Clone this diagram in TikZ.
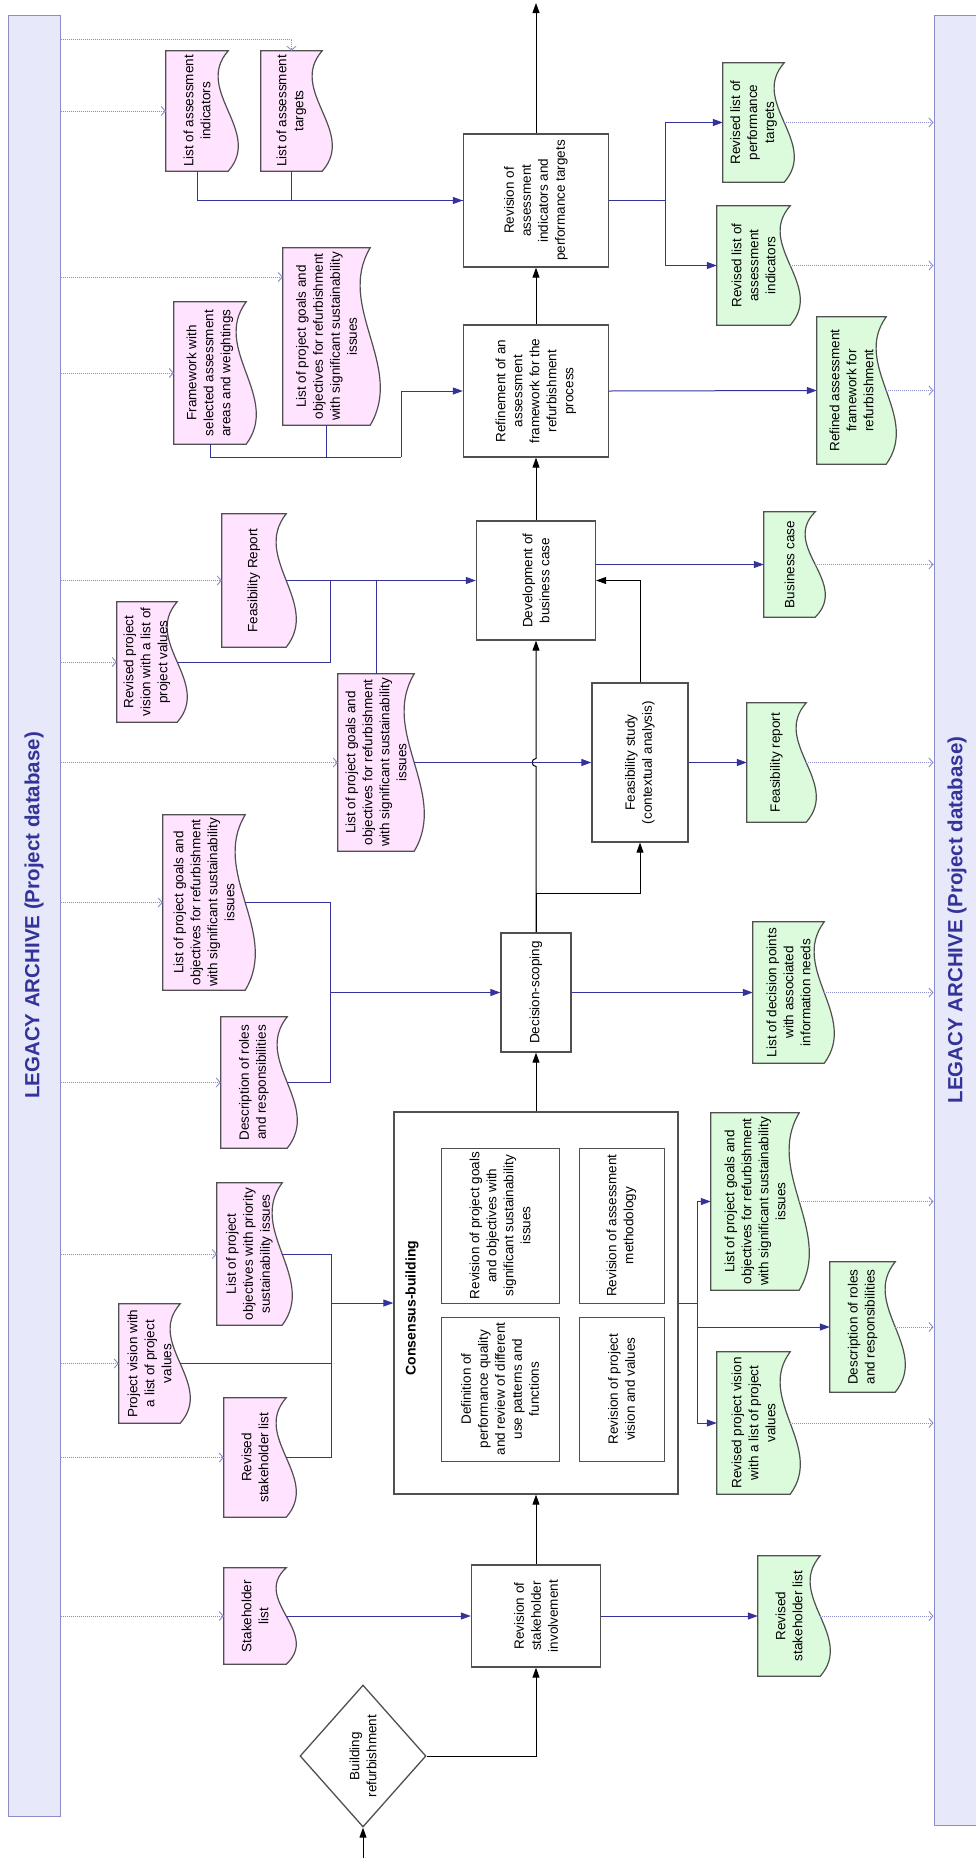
\documentclass[tikz,border=0pt]{standalone}
\usepackage{fontspec}
\setmainfont{Liberation Sans}
\usetikzlibrary{arrows.meta,shapes.geometric,calc,backgrounds}

\definecolor{navy}{HTML}{333399}
\definecolor{archline}{HTML}{8C8CCB}
\definecolor{archfill}{HTML}{E8E8FB}
\definecolor{pinkdoc}{HTML}{FFE3FF}
\definecolor{greendoc}{HTML}{DCFADC}
\definecolor{boxgrey}{HTML}{505050}

\newcommand{\diagfont}{\fontsize{13.5}{17}\selectfont}

\tikzset{
  proc/.style={draw=boxgrey, line width=1.3pt, fill=white, rotate=90, align=center,
    font=\diagfont, inner sep=2pt},
  subproc/.style={proc, line width=1pt},
  docnode/.style={rotate=90, align=center, font=\diagfont, inner sep=0pt},
  archbar/.style={draw=archline, fill=archfill, line width=1pt, rotate=90,
    font=\fontsize{20.5}{24}\selectfont\bfseries, text=navy},
  flow/.style={draw=black, line width=1pt, -{Triangle[length=10pt,width=7pt]}},
  feed/.style={draw=navy, line width=1pt, -{Triangle[length=10pt,width=7pt]}},
  feedline/.style={draw=navy, line width=1pt},
  arch/.style={draw=archline, line width=0.9pt, dash pattern=on 1pt off 1pt,
    -{Straight Barb[length=4pt,width=9pt]}},
}

\begin{document}
\begin{tikzpicture}[x=1pt, y=-1pt]
  \useasboundingbox (0,0) rectangle (976,1858);

  % archive bars
  \node[archbar, minimum width=1801pt, minimum height=52pt] (archtop) at (34,915.5) {LEGACY ARCHIVE (Project database)};
  \node[archbar, minimum width=1810pt, minimum height=46pt] (archbot) at (957,920) {LEGACY ARCHIVE (Project database)};

  % main process
  \node[proc, diamond, aspect=1.13, minimum width=142pt, minimum height=126pt, inner sep=0pt] (refurb) at (363,1756) {Building\\refurbishment};
  \node[proc, minimum width=102pt, minimum height=129pt] (revstake) at (536,1616) {Revision of\\stakeholder\\involvement};
  \node[proc, minimum width=382pt, minimum height=284pt] (consensus) at (536,1303) {};
  \node[rotate=90, font=\fontsize{14}{17}\selectfont\bfseries] (conslabel) at (412,1308) {Consensus-building};
  \node[subproc, minimum width=144pt, minimum height=118pt] (defqual) at (500,1389) {Definition of\\performance quality\\and review of different\\use patterns and\\functions};
  \node[subproc, minimum width=144pt, minimum height=85pt] (visionval) at (621.5,1389) {Revision of project\\vision and values};
  \node[subproc, minimum width=155pt, minimum height=118pt] (goalsrev) at (500,1225.5) {Revision of project goals\\and objectives with\\significant sustainability\\issues};
  \node[subproc, minimum width=155pt, minimum height=85pt] (method) at (621.5,1225.5) {Revision of assessment\\methodology};
  \node[proc, minimum width=119pt, minimum height=70pt] (decide) at (536,992.5) {Decision-scoping};
  \node[proc, minimum width=159pt, minimum height=96pt] (feas) at (640,762.5) {Feasibility study\\(contextual analysis)};
  \node[proc, minimum width=119pt, minimum height=119pt] (busdev) at (536,580.5) {Development of\\business case};
  \node[proc, minimum width=132pt, minimum height=145pt] (refine) at (536,391) {Refinement of an\\assessment\\framework for the\\refurbishment\\process};
  \node[proc, minimum width=133pt, minimum height=145pt] (revind) at (536,200.5) {Revision of\\assessment\\indicators and\\performance targets};

  % documents taken from the archive
  \node[docnode, minimum width=96pt, minimum height=62pt] (stakelist) at (255,1616) {Stakeholder\\list};
  \node[docnode, minimum width=119pt, minimum height=62pt] (revstakelist) at (255,1457.5) {Revised\\stakeholder list};
  \node[docnode, minimum width=119pt, minimum height=61pt] (visionlist) at (149.5,1363.5) {Project vision with\\a list of project\\values};
  \node[docnode, minimum width=142pt, minimum height=65pt] (objlist) at (249.5,1254) {List of project\\objectives with priority\\sustainability issues};
  \node[docnode, minimum width=131pt, minimum height=66pt] (rolesin) at (254,1082.5) {Description of roles\\and responsibilities};
  \node[docnode, minimum width=175pt, minimum height=82pt] (goalsA) at (204,902.5) {List of project goals and\\objectives for refurbishment\\with significant sustainability\\issues};
  \node[docnode, minimum width=177pt, minimum height=76pt] (goalsB) at (376,762.5) {List of project goals and\\objectives for refurbishment\\with significant sustainability\\issues};
  \node[docnode, minimum width=133pt, minimum height=64pt] (feasrep) at (254,580.5) {Feasibility Report};
  \node[docnode, minimum width=120pt, minimum height=60pt] (visionrev) at (147,662) {Revised project\\vision with a list of\\project values};
  \node[docnode, minimum width=142pt, minimum height=72pt] (framework) at (210,373) {Framework with\\selected assessment\\areas and weightings};
  \node[docnode, minimum width=177pt, minimum height=87pt] (goalsC) at (326.5,336.5) {List of project goals and\\objectives for refurbishment\\with significant sustainability\\issues};
  \node[docnode, minimum width=120pt, minimum height=62pt] (indlist) at (197,111) {List of assessment\\indicators};
  \node[docnode, minimum width=120pt, minimum height=61pt] (tarlist) at (291.5,111) {List of assessment\\targets};

  % documents stored in the archive
  \node[docnode, minimum width=120pt, minimum height=62pt] (revstakeout) at (789,1616) {Revised\\stakeholder list};
  \node[docnode, minimum width=177pt, minimum height=88pt] (goalsout) at (755,1201.5) {List of project goals and\\objectives for refurbishment\\with significant sustainability\\issues};
  \node[docnode, minimum width=130pt, minimum height=65pt] (rolesout) at (862.5,1327) {Description of roles\\and responsibilities};
  \node[docnode, minimum width=142pt, minimum height=73pt] (visionout) at (753.5,1423) {Revised project vision\\with a list of project\\values};
  \node[docnode, minimum width=141pt, minimum height=71pt] (decpoints) at (788.5,992.5) {List of decision points\\with associated\\information needs};
  \node[docnode, minimum width=119pt, minimum height=59pt] (feasout) at (776.5,762.5) {Feasibility report};
  \node[docnode, minimum width=105pt, minimum height=51pt] (buscase) at (789.5,564.5) {Business case};
  \node[docnode, minimum width=147pt, minimum height=69pt] (refframe) at (851.5,390.5) {Refined assessment\\framework for\\refurbishment};
  \node[docnode, minimum width=119pt, minimum height=61pt] (perftargets) at (753.5,122.5) {Revised list of\\performance\\targets};
  \node[docnode, minimum width=119pt, minimum height=73pt] (assind) at (753.5,265.5) {Revised list of\\assessment\\indicators};

  % document outlines
  \begin{scope}[on background layer]
    \fill[white] (0,0) rectangle (976,1858);
    \foreach \d/\c in {stakelist/pinkdoc, revstakelist/pinkdoc, visionlist/pinkdoc, objlist/pinkdoc,
        rolesin/pinkdoc, goalsA/pinkdoc, goalsB/pinkdoc, feasrep/pinkdoc, visionrev/pinkdoc,
        framework/pinkdoc, goalsC/pinkdoc, indlist/pinkdoc, tarlist/pinkdoc,
        revstakeout/greendoc, goalsout/greendoc, rolesout/greendoc, visionout/greendoc,
        decpoints/greendoc, feasout/greendoc, buscase/greendoc, refframe/greendoc,
        perftargets/greendoc, assind/greendoc}
      \draw[draw=boxgrey, line width=1.2pt, fill=\c] (\d.north west) -- (\d.north east) -- (\d.south east)
        .. controls ($(\d.south east)!0.33!(\d.south west)+(-35,0)$) and ($(\d.south east)!0.67!(\d.south west)+(35,0)$) .. (\d.south west) -- cycle;
  \end{scope}

  % main flow
  \coordinate (entry) at (363,1858);
  \coordinate (exit) at (536,3);
  \coordinate (split) at (536,893);
  \coordinate (cross) at (split |- goalsB.south);
  \draw[flow] (entry) -- (refurb.west);
  \draw[flow] (refurb.south) -| (revstake.west);
  \draw[flow] (revstake.east) -- (consensus.west);
  \draw[flow] (consensus.east) -- (decide.west);
  \draw[flow] (decide.east) -- (split) -| (feas.west);
  \draw[flow] (decide.east) -- ($(cross)+(0,4)$) .. controls ($(cross)+(-5,4)$) and ($(cross)+(-5,-4)$) .. ($(cross)+(0,-4)$) -- (busdev.west);
  \draw[flow] (feas.east) |- (busdev.south);
  \draw[flow] (busdev.east) -- (refine.west);
  \draw[flow] (refine.east) -- (revind.west);
  \draw[flow] (revind.east) -- (exit);

  % inputs and outputs
  \coordinate (cjoin) at (331,1303);
  \coordinate (cfork) at (697,1303);
  \coordinate (djoin) at (330,992.5);
  \coordinate (bjoin) at (330,580.5);
  \coordinate (rjoin) at (401,457);
  \coordinate (ifork) at (665,200.5);

  \draw[feed] (stakelist.south) -- (revstake.north);
  \draw[feed] (revstake.south) -- (revstakeout.north);

  \draw[feedline] (revstakelist.south) -| (cjoin);
  \draw[feedline] (visionlist.south) -| (cjoin);
  \draw[feedline] (objlist.south) -| (cjoin);
  \draw[feed] (cjoin) -- (consensus.north);
  \draw[feedline] (consensus.south) -- (cfork);
  \draw[feed] (cfork) |- (goalsout.north);
  \draw[feed] (cfork) |- (rolesout.north);
  \draw[feed] (cfork) |- (visionout.north);

  \draw[feedline] (rolesin.south) -| (djoin);
  \draw[feedline] (goalsA.south) -| (djoin);
  \draw[feed] (djoin) -- (decide.north);
  \draw[feed] (decide.south) -- (decpoints.north);

  \draw[feed] (goalsB.south) -- (feas.north);
  \draw[feed] (feas.south) -- (feasout.north);

  \draw[feed] (feasrep.south) -- (busdev.north);
  \draw[feedline] (visionrev.south) -| (bjoin);
  \draw[feedline] (goalsB.east) -- (goalsB.east |- bjoin);
  \draw[feed] (busdev.south |- buscase.north) -- (buscase.north);

  \draw[feedline] (framework.west) |- (rjoin);
  \draw[feedline] (goalsC.west) |- (rjoin);
  \draw[feed] (rjoin) |- (refine.north);
  \draw[feed] (refine.south) -- (refframe.north);

  \draw[feed] (indlist.west) |- (revind.north);
  \draw[feedline] (tarlist.west) |- (revind.north);
  \draw[feedline] (revind.south) -- (ifork);
  \draw[feed] (ifork) |- (perftargets.north);
  \draw[feed] (ifork) |- (assind.north);

  % archive links
  \foreach \d in {stakelist, revstakelist, visionlist, objlist, rolesin, goalsA, goalsB,
      feasrep, visionrev, framework, indlist}
    \draw[arch] (archtop.south |- \d.north) -- (\d.north);
  \coordinate (goalsCin) at (goalsC.north |- 0,277);
  \draw[arch] (archtop.south |- goalsCin) -- (goalsCin);
  \draw[arch] (archtop.south |- 0,39) -| (tarlist.east);
  \foreach \d in {revstakeout, goalsout, rolesout, visionout, decpoints, feasout, buscase,
      refframe, perftargets, assind}
    \draw[arch] (\d.south) -- (\d.south -| archbot.north);
\end{tikzpicture}
\end{document}
